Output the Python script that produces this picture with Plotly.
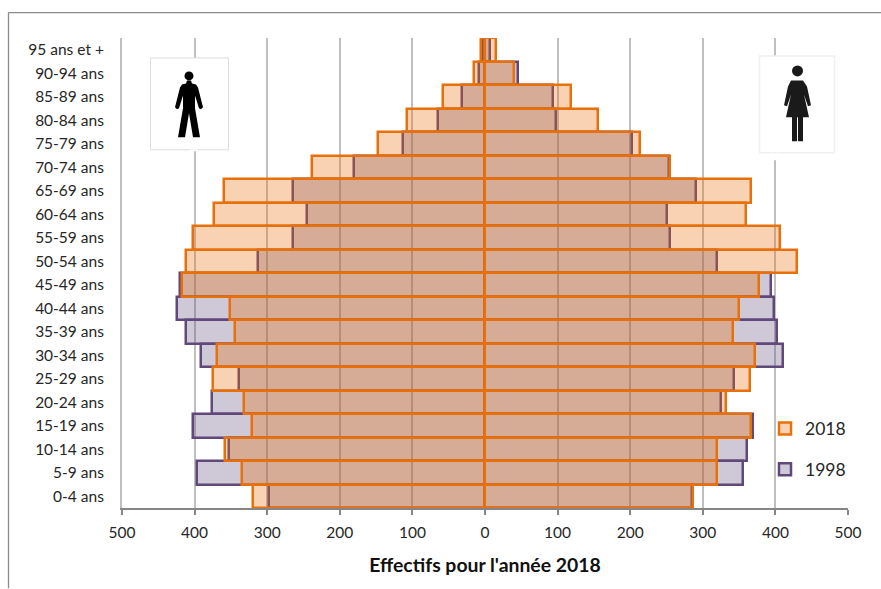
import plotly.graph_objects as go

W, H = 881, 589
L, R, T, B = 122, 848, 37.5, 508.5

ages = ["0-4 ans", "5-9 ans", "10-14 ans", "15-19 ans", "20-24 ans", "25-29 ans", "30-34 ans",
        "35-39 ans", "40-44 ans", "45-49 ans", "50-54 ans", "55-59 ans", "60-64 ans", "65-69 ans",
        "70-74 ans", "75-79 ans", "80-84 ans", "85-89 ans", "90-94 ans", "95 ans et +"]
men_2018 = [320, 335, 358, 321, 332, 375, 369, 345, 351, 417, 412, 402, 373, 359, 238, 147, 107, 58, 15, 6]
men_1998 = [297, 397, 353, 402, 376, 339, 391, 412, 424, 420, 313, 265, 245, 265, 181, 113, 65, 31, 8, 3]
women_2018 = [286, 320, 319, 367, 332, 365, 372, 341, 350, 377, 430, 407, 359, 367, 255, 214, 156, 118, 40, 15]
women_1998 = [285, 355, 361, 369, 325, 343, 410, 402, 398, 394, 319, 255, 250, 291, 254, 202, 98, 94, 45, 7]
tick_values = [-500, -400, -300, -200, -100, 0, 100, 200, 300, 400, 500]
tick_labels = ["500", "400", "300", "200", "100", "0", "100", "200", "300", "400", "500"]

ORANGE, ORANGE_FILL = "#e8700a", "rgba(232,110,10,0.31)"
PURPLE, PURPLE_FILL = "#60497a", "rgba(96,73,122,0.30)"
FONT = "Lato, Carlito, 'Open Sans', sans-serif"


def neg(values):
    return [-v for v in values]


def bar(values, name, line, fill, show, rank):
    return go.Bar(y=ages, x=values, orientation="h", name=name, legendgroup=name, showlegend=show, legendrank=rank,
                  marker=dict(color=fill, line=dict(color=line, width=2.5)))


fig = go.Figure([
    bar(neg(men_1998), "1998", PURPLE, PURPLE_FILL, False, 2),
    bar(women_1998, "1998", PURPLE, PURPLE_FILL, True, 2),
    bar(neg(men_2018), "2018", ORANGE, ORANGE_FILL, False, 1),
    bar(women_2018, "2018", ORANGE, ORANGE_FILL, True, 1),
])


def px(x):
    return (x - L) / (R - L)


def py(y):
    return (B - y) / (B - T)


def path(d):
    res, is_x = [], True
    for tok in d.replace(",", " ").split():
        if tok[0].isalpha():
            res.append(tok[0])
            tok = tok[1:]
            is_x = True
            if not tok:
                continue
        res.append(f"{px(float(tok)):.5f}" if is_x else f"{py(float(tok)):.5f}")
        res.append(" ")
        is_x = not is_x
    return "".join(res)


def paper_rect(x0, y0, x1, y1, **kw):
    return dict(type="rect", xref="paper", yref="paper", x0=px(x0), x1=px(x1), y0=py(y0), y1=py(y1), **kw)


def paper_line(x0, y0, x1, y1, color):
    return dict(type="line", xref="paper", yref="paper", x0=px(x0), x1=px(x1), y0=py(y0), y1=py(y1),
                line=dict(color=color, width=1.3))


def circle(cx, cy, r, color):
    return dict(type="circle", xref="paper", yref="paper", x0=px(cx - r), x1=px(cx + r), y0=py(cy - r), y1=py(cy + r),
                fillcolor=color, line=dict(width=0))


MAN = ("M187,80 L191,80 L192,83 L196,84 L198,87 L203,107 L201,109 L199,108 L195,95 L195,108 L200,137 "
       "L193,137 L189,113 L185,137 L178,137 L183,108 L183,95 L179,108 L177,109 L175,107 L180,87 L182,84 L186,83 Z")
WOMAN = ("M791,80 L803,80 L807,86 L811,105 L808,106 L804,94 L809,117 L803,117 L803,141 L798,141 L798,117 "
         "L797,117 L797,141 L792,141 L792,117 L786,117 L791,94 L787,106 L784,105 L788,86 Z")

shapes = [
    paper_line(8.5, 12, 881, 12, "#8c8c8c"),
    paper_line(8.5, 12, 8.5, 589, "#8c8c8c"),
    paper_rect(150.5, 57.5, 228.5, 149.5, fillcolor="white", line=dict(color="#dcdcdc", width=1)),
    paper_rect(190, 149, 198, 151, fillcolor="white", line=dict(width=0)),
    paper_rect(759.5, 55.5, 834.5, 152.5, fillcolor="white", line=dict(color="#f0f0f0", width=1.5)),
    paper_rect(770, 153, 780, 160, fillcolor="white", line=dict(width=0)),
    dict(type="path", xref="paper", yref="paper", path=path(MAN), fillcolor="black", line=dict(width=0)),
    circle(189, 75.5, 4.5, "black"),
    dict(type="path", xref="paper", yref="paper", path=path(WOMAN), fillcolor="#1a1a1a", line=dict(width=0)),
    circle(797.5, 70.5, 5.5, "#1a1a1a"),
]

fig.update_layout(
    width=W, height=H, autosize=False,
    margin=dict(l=L, r=W - R, t=T, b=H - B, pad=0),
    paper_bgcolor="white", plot_bgcolor="white",
    barmode="overlay", bargap=0,
    font=dict(family=FONT, size=15.5, color="#262626"),
    showlegend=True,
    legend=dict(x=px(765), y=py(411), xanchor="left", yanchor="top", bgcolor="rgba(0,0,0,0)",
                traceorder="grouped", tracegroupgap=15, font=dict(size=17.5), itemclick=False),
    shapes=shapes,
    xaxis=dict(range=[-500, 500], tickvals=tick_values, ticktext=tick_labels,
               showgrid=True, gridcolor="#bfbfbf", gridwidth=2, zeroline=False,
               showline=True, linecolor="#868686", linewidth=2,
               ticks="outside", ticklen=5, tickcolor="#868686", tickwidth=2,
               tickfont=dict(size=15.5), ticklabelstandoff=4, layer="below traces",
               title=dict(text="<b>Effectifs pour l'année 2018</b>", font=dict(size=19.4, color="#111111"), standoff=19)),
    yaxis=dict(type="category", categoryorder="array", categoryarray=ages,
               showgrid=False, zeroline=False, showline=True, linecolor="#bfbfbf", linewidth=2,
               ticks="", ticklabelstandoff=13, tickfont=dict(size=15.5)),
)

fig.write_html("out.html", config=dict(displayModeBar=False), post_script="document.body.style.margin='0';")
